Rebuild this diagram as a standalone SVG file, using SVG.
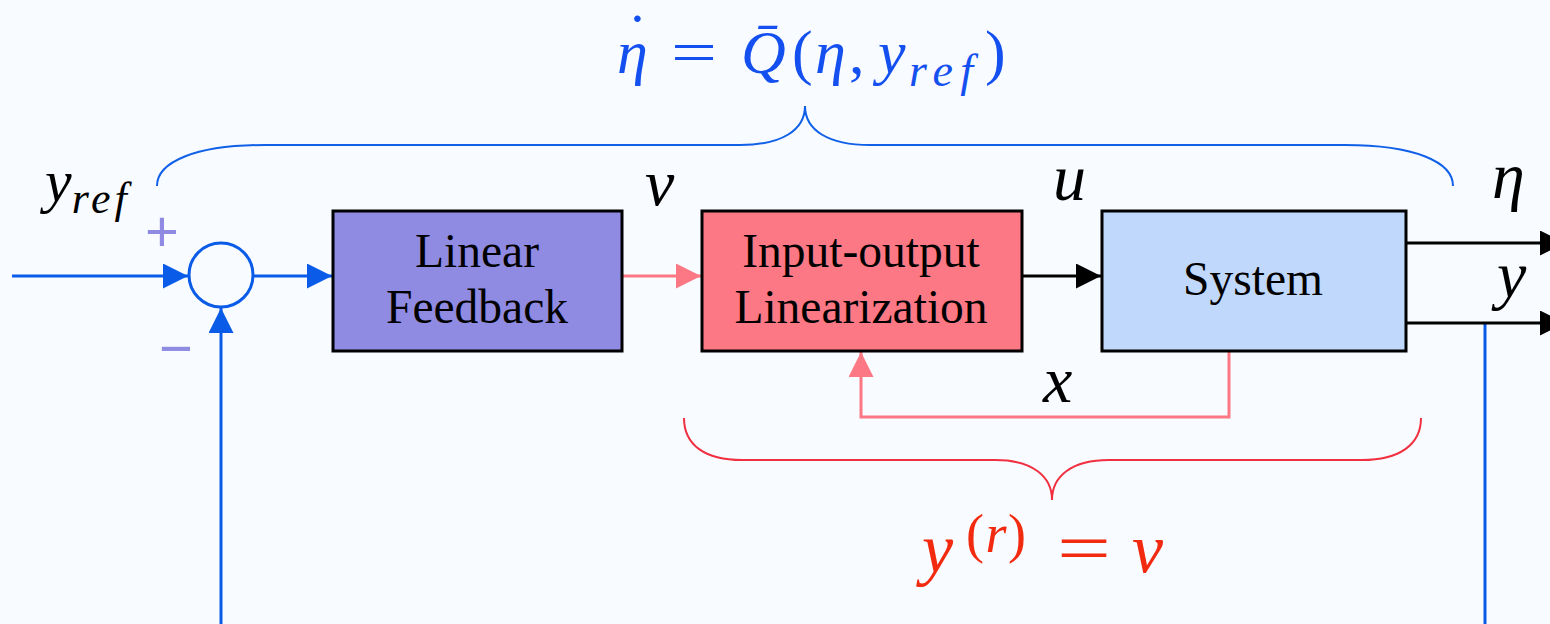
<svg xmlns="http://www.w3.org/2000/svg" width="1550" height="624" viewBox="0 0 1550 624">
  <defs>
    <style>
      .box { stroke: #000; stroke-width: 3; }
      .boxtxt { font-family: "Liberation Serif", "Times New Roman", serif; font-size: 47.5px; fill: #000; text-anchor: middle; }
      .lab { font-family: "Liberation Serif", "Times New Roman", serif; font-style: italic; fill: #000; }
      .math { font-family: "Liberation Serif", "Times New Roman", serif; }
      .it { font-style: italic; }
      .blue { stroke: #0a5ce8; stroke-width: 3; fill: none; }
      .black { stroke: #000; stroke-width: 3; fill: none; }
      .pink { stroke: #fb7884; stroke-width: 3; fill: none; }
      .sign { font-family: "Liberation Sans", Arial, sans-serif; font-size: 58px; fill: #8f8ae2; text-anchor: middle; }
    </style>
    <marker id="ahBlue" markerWidth="25" markerHeight="25" refX="25" refY="12.5" orient="auto" markerUnits="userSpaceOnUse">
      <path d="M0,0 L25,12.5 L0,25 Z" fill="#0a5ce8"/>
    </marker>
    <marker id="ahBlack" markerWidth="25" markerHeight="25" refX="25" refY="12.5" orient="auto" markerUnits="userSpaceOnUse">
      <path d="M0,0 L25,12.5 L0,25 Z" fill="#000"/>
    </marker>
    <marker id="ahPink" markerWidth="25" markerHeight="25" refX="25" refY="12.5" orient="auto" markerUnits="userSpaceOnUse">
      <path d="M0,0 L25,12.5 L0,25 Z" fill="#fb7884"/>
    </marker>
  </defs>

  <rect x="0" y="0" width="1550" height="624" fill="#f8fbff"/>

  <!-- braces -->
  <g id="brace-top">
    <path d="M157,186 C157,162 195,145 265,145 L740,145 C782,145 805,130 805,106 C805,130 828,145 870,145 L1345,145 C1415,145 1453,162 1453,186" fill="none" stroke="#1060e8" stroke-width="2"/>
    <text class="math" y="73" font-size="62" fill="#1450f0"><tspan class="it" x="617">η</tspan><tspan x="627" dy="-17">˙</tspan><tspan x="671" dy="17" textLength="46" lengthAdjust="spacingAndGlyphs">=</tspan><tspan class="it" x="741">Q̄</tspan><tspan x="792">(</tspan><tspan class="it" x="815">η</tspan><tspan x="849">,</tspan><tspan class="it" x="878">y</tspan><tspan class="it" x="909" dy="13" font-size="46" textLength="64" lengthAdjust="spacing">ref</tspan><tspan x="985" dy="-13">)</tspan></text>
  </g>
  <g id="brace-bottom">
    <path d="M684,418 C684,445 705,460 742,460 L995,460 C1032,460 1052,476 1052,500 C1052,476 1072,460 1109,460 L1362,460 C1399,460 1421,445 1421,418" fill="none" stroke="#f03040" stroke-width="2"/>
    <text class="math" y="572" font-size="70" fill="#f22a10"><tspan class="it" x="922">y</tspan><tspan x="966" dy="-20" font-size="54" textLength="60" lengthAdjust="spacing">(<tspan class="it">r</tspan>)</tspan><tspan x="1057" dy="20" textLength="54" lengthAdjust="spacingAndGlyphs">=</tspan><tspan class="it" x="1132">v</tspan></text>
  </g>

  <!-- connectors -->
  <g id="connectors">
    <line class="blue" x1="12" y1="276" x2="188" y2="276" marker-end="url(#ahBlue)"/>
    <line class="blue" x1="254" y1="276" x2="332" y2="276" marker-end="url(#ahBlue)"/>
    <line class="blue" x1="221" y1="624" x2="221" y2="308" marker-end="url(#ahBlue)"/>
    <line class="blue" x1="1485" y1="323" x2="1485" y2="624"/>
    <line class="pink" x1="622" y1="276" x2="701" y2="276" marker-end="url(#ahPink)"/>
    <line class="black" x1="1022" y1="276" x2="1101" y2="276" marker-end="url(#ahBlack)"/>
    <line class="black" x1="1406" y1="243" x2="1565" y2="243" marker-end="url(#ahBlack)"/>
    <line class="black" x1="1406" y1="323" x2="1565" y2="323" marker-end="url(#ahBlack)"/>
    <polyline class="pink" points="1229,351 1229,417 861,417 861,352" marker-end="url(#ahPink)"/>
  </g>

  <!-- sum node -->
  <g id="sum">
    <circle cx="221" cy="275" r="32" fill="#f8fbff" stroke="#0a5ce8" stroke-width="3"/>
    <text class="sign" x="162" y="251">+</text>
    <text class="sign" x="176" y="368">−</text>
  </g>

  <g id="linear-feedback">
    <rect class="box" x="333" y="211" width="289" height="140" fill="#8f8ae2"/>
    <text class="boxtxt" x="477" y="267">Linear</text>
    <text class="boxtxt" x="477" y="323">Feedback</text>
  </g>

  <g id="io-linearization">
    <rect class="box" x="702" y="211" width="320" height="140" fill="#fb7884"/>
    <text class="boxtxt" x="861" y="267">Input-output</text>
    <text class="boxtxt" x="861" y="323">Linearization</text>
  </g>

  <g id="system">
    <rect class="box" x="1102" y="211" width="304" height="140" fill="#c0d8fb"/>
    <text class="boxtxt" x="1253" y="295">System</text>
  </g>

  <!-- labels -->
  <g id="labels">
    <text class="lab" x="45" y="201" font-size="60">y<tspan dy="12" font-size="44" textLength="55" lengthAdjust="spacing">ref</tspan></text>
    <text class="lab" x="645" y="205" font-size="66">v</text>
    <text class="lab" x="1053" y="200" font-size="66">u</text>
    <text class="lab" x="1492" y="198" font-size="66">η</text>
    <text class="lab" x="1497" y="297" font-size="66">y</text>
    <text class="lab" x="1043" y="402" font-size="66">x</text>
  </g>
</svg>
